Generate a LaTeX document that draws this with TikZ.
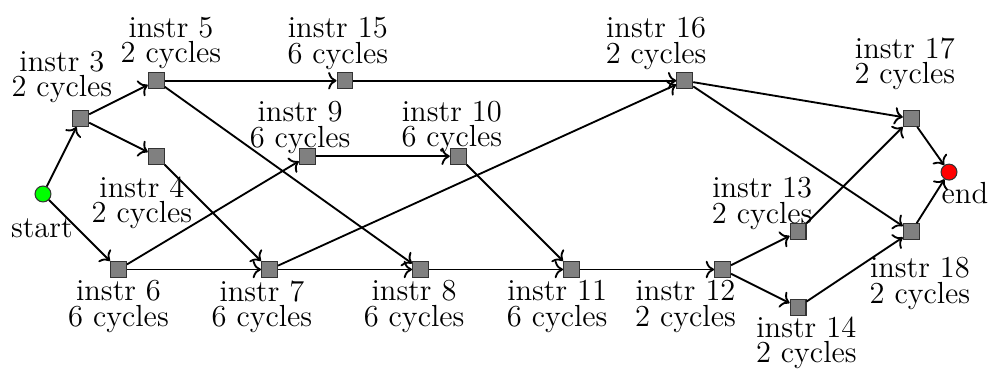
\documentclass[tikz,border=0pt]{standalone}
\usepackage{xcolor}
\usepackage{tikz}
\usetikzlibrary{arrows.meta, positioning}

\begin{document}
\begin{tikzpicture}[x=0.5cm, y=0.5cm,
instr/.style={rectangle, draw=black!80, fill=gray, minimum size=6pt, inner sep=0pt, line width=0.4pt},
term/.style={circle, draw=black!80, minimum size=6pt, inner sep=0pt, line width=0.4pt},
lbl/.style={align=center, inner sep=0pt, font=\fontsize{11.5}{9.5}\selectfont},
dep/.style={->, line width=0.7pt}]

\useasboundingbox (-1.139,-4.662) rectangle (25.086,5.139);

% Start and end points
\node[term, fill=green] (start) at (0,0) {};
\node[term, fill=red] (finish) at (24,0.58) {};

% Instructions
\node[instr] (i3) at (1,2) {};
\node[instr] (i4) at (3,1) {};
\node[instr] (i5) at (3,3) {};
\node[instr] (i6) at (2,-2) {};
\node[instr] (i7) at (6,-2) {};
\node[instr] (i8) at (10,-2) {};
\node[instr] (i9) at (7,1) {};
\node[instr] (i10) at (11,1) {};
\node[instr] (i11) at (14,-2) {};
\node[instr] (i12) at (18,-2) {};
\node[instr] (i13) at (20,-1) {};
\node[instr] (i14) at (20,-3) {};
\node[instr] (i15) at (8,3) {};
\node[instr] (i16) at (17,3) {};
\node[instr] (i17) at (23,2) {};
\node[instr] (i18) at (23,-1) {};

% ---- Labels ----
\node[lbl] (lstart) at (-0.03,-0.90) {start};
\node[lbl] (lfinish) at (24.42,0.03) {end};
\node[lbl] (l3) at (0.50,3.09) {instr 3\\2 cycles};
\node[lbl] (l4) at (2.62,-0.24) {instr 4\\2 cycles};
\node[lbl] (l5) at (3.39,3.99) {instr 5\\2 cycles};
\node[lbl] (l6) at (2.00,-2.98) {instr 6\\6 cycles};
\node[lbl] (l7) at (5.80,-2.98) {instr 7\\6 cycles};
\node[lbl] (l8) at (9.83,-2.98) {instr 8\\6 cycles};
\node[lbl] (l9) at (6.81,1.76) {instr 9\\6 cycles};
\node[lbl] (l10) at (10.83,1.78) {instr 10\\6 cycles};
\node[lbl] (l11) at (13.62,-2.98) {instr 11\\6 cycles};
\node[lbl] (l12) at (17.02,-2.98) {instr 12\\2 cycles};
\node[lbl] (l13) at (19.05,-0.25) {instr 13\\2 cycles};
\node[lbl] (l14) at (20.22,-3.95) {instr 14\\2 cycles};
\node[lbl] (l15) at (7.81,3.99) {instr 15\\6 cycles};
\node[lbl] (l16) at (16.24,3.99) {instr 16\\2 cycles};
\node[lbl] (l17) at (22.83,3.44) {instr 17\\2 cycles};
\node[lbl] (l18) at (23.23,-2.37) {instr 18\\2 cycles};

% ---- Dependencies ----
\draw[dep] (start) -- (i3);
\draw[dep] (start) -- (i6);
\draw[dep] (i3) -- (i5);
\draw[dep] (i3) -- (i4);
\draw[dep] (i5) -- (i15);
\draw[dep] (i5) -- (i8);
\draw[dep] (i4) -- (i7);
\draw[dep] (i6) -- (i7);
\draw[dep] (i6) -- (i9);
\draw[dep] (i7) -- (i8);
\draw[dep] (i7) -- (i16);
\draw[dep] (i9) -- (i10);
\draw[dep] (i10) -- (i11);
\draw[dep] (i8) -- (i11);
\draw[dep] (i15) -- (i16);
\draw[dep] (i11) -- (i12);
\draw[dep] (i12) -- (i13);
\draw[dep] (i12) -- (i14);
\draw[dep] (i16) -- (i17);
\draw[dep] (i16) -- (i18);
\draw[dep] (i13) -- (i17);
\draw[dep] (i14) -- (i18);
\draw[dep] (i17) -- (finish);
\draw[dep] (i18) -- (finish);

\end{tikzpicture}
\end{document}
